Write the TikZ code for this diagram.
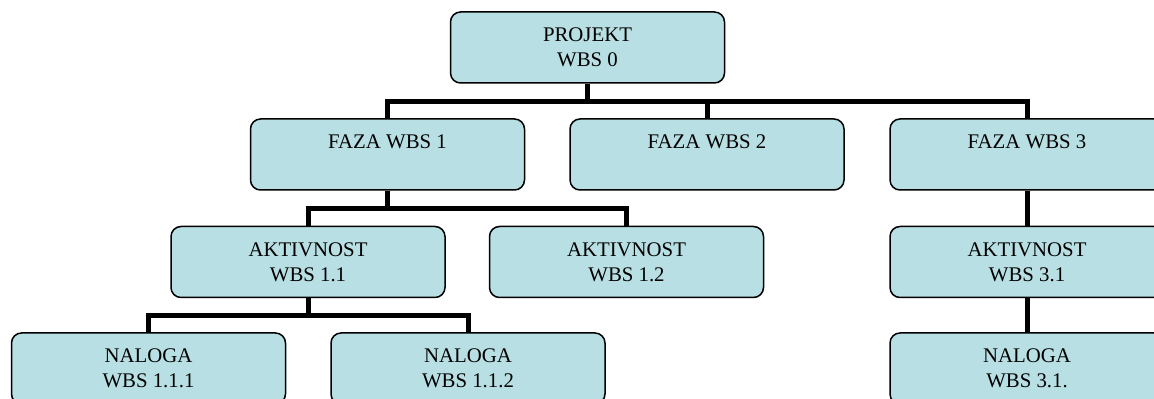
\documentclass[tikz,border=0pt]{standalone}
\usepackage{fontspec}
\setmainfont{Liberation Serif}
\usepackage{xcolor}
\usepackage{tikz}
\definecolor{boxfill}{RGB}{184,223,227}

\begin{document}
\begin{tikzpicture}[x=0.5pt, y=-0.5pt,
            wbsbox/.style={rectangle, rounded corners=5pt, draw, line width=0.75pt, fill=boxfill,
                minimum width=137pt, minimum height=35.5pt, inner sep=2pt, align=center,
                font=\fontsize{10.4}{12.5}\selectfont},
            link/.style={line width=2.5pt}]
            \useasboundingbox (0,0) rectangle (1154,399);

            % Nodes
            \node[wbsbox] (proj) at (587.5,47.5) {PROJEKT\\WBS 0};
            \node[wbsbox] (faza1) at (387.5,154.5) {FAZA WBS 1\\~};
            \node[wbsbox] (faza2) at (707,154.5) {FAZA WBS 2\\~};
            \node[wbsbox] (faza3) at (1027,154.5) {FAZA WBS 3\\~};
            \node[wbsbox] (akt11) at (308,262) {AKTIVNOST\\WBS 1.1};
            \node[wbsbox] (akt12) at (626.5,262) {AKTIVNOST\\WBS 1.2};
            \node[wbsbox] (akt31) at (1027,262) {AKTIVNOST\\WBS 3.1};
            \node[wbsbox] (nal111) at (148.5,368.5) {NALOGA\\WBS 1.1.1};
            \node[wbsbox] (nal112) at (468,368.5) {NALOGA\\WBS 1.1.2};
            \node[wbsbox] (nal31) at (1027,368.5) {NALOGA\\WBS 3.1.};

            % Edges
            \draw[link] (proj.south) -- ++(0,18) -| (faza1.north);
            \draw[link] (proj.south) -- ++(0,18) -| (faza2.north);
            \draw[link] (proj.south) -- ++(0,18) -| (faza3.north);
            \draw[link] (faza1.south) -- ++(0,18) -| (akt11.north);
            \draw[link] (faza1.south) -- ++(0,18) -| (akt12.north);
            \draw[link] (faza3) -- (akt31);
            \draw[link] (akt11.south) -- ++(0,17.5) -| (nal111.north);
            \draw[link] (akt11.south) -- ++(0,17.5) -| (nal112.north);
            \draw[link] (akt31) -- (nal31);
        \end{tikzpicture}
\end{document}
